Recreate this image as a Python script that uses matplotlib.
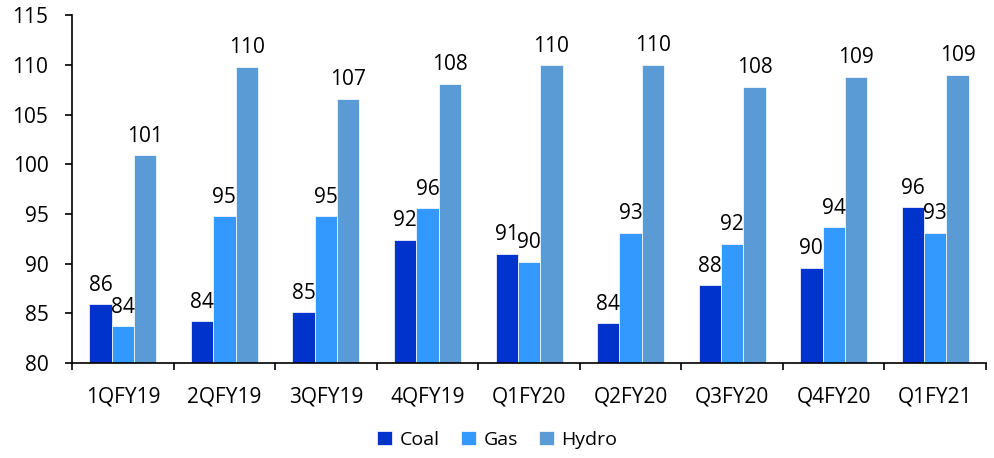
import numpy as np
import matplotlib
matplotlib.use('Agg')
import matplotlib.pyplot as plt

quarters = ['1QFY19', '2QFY19', '3QFY19', '4QFY19', 'Q1FY20', 'Q2FY20', 'Q3FY20', 'Q4FY20', 'Q1FY21']
coal = [85.9, 84.2, 85.1, 92.4, 91.0, 84.0, 87.8, 89.6, 95.7]
gas = [83.7, 94.8, 94.8, 95.6, 90.2, 93.1, 92.0, 93.7, 93.1]
hydro = [100.9, 109.8, 106.6, 108.1, 109.95, 110.0, 107.8, 108.8, 109.0]

series = [('Coal', coal, '#0033CC'), ('Gas', gas, '#3399FF'), ('Hydro', hydro, '#5B9BD5')]

plt.rcParams['font.family'] = ['Open Sans', 'DejaVu Sans']

fig = plt.figure(figsize=(9.95, 4.58), dpi=100)
ax = fig.add_axes([0.0724, 0.2074, 0.9186, 0.7596])

x = np.arange(len(quarters))
w = 0.22
for i, (name, vals, col) in enumerate(series):
    pos = x + (i - 1) * w
    ax.bar(pos, np.array(vals) - 80, w, bottom=80, color=col, label=name,
           edgecolor='white', linewidth=0.5)
    for p, v in zip(pos, vals):
        ax.annotate('%d' % round(v), (p, v), xytext=(0, 6), textcoords='offset points',
                    ha='center', va='bottom', fontsize=15)

ax.set_ylim(80, 115)
ax.set_yticks(range(80, 116, 5))
ax.set_xlim(-0.5, len(quarters) - 0.5)
ax.set_xticks(x)
ax.set_xticklabels(quarters)
ax.set_xticks(np.arange(-0.5, len(quarters), 1), minor=True)
ax.tick_params(axis='x', which='major', length=0, pad=17, labelsize=15)
ax.tick_params(axis='x', which='minor', length=5, width=1.2, direction='out')
ax.tick_params(axis='y', length=5, width=1.2, labelsize=15, pad=12)
for s in ['top', 'right']:
    ax.spines[s].set_visible(False)
for s in ['left', 'bottom']:
    ax.spines[s].set_linewidth(1.2)

handles, labels = ax.get_legend_handles_labels()
fig.legend(handles, labels, loc='center', bbox_to_anchor=(0.5, 1 - 440 / 458), ncol=3,
           frameon=False, fontsize=14, handlelength=0.75, handleheight=0.75,
           handletextpad=0.4, columnspacing=1.1)

fig.savefig('out.png', dpi=100)
